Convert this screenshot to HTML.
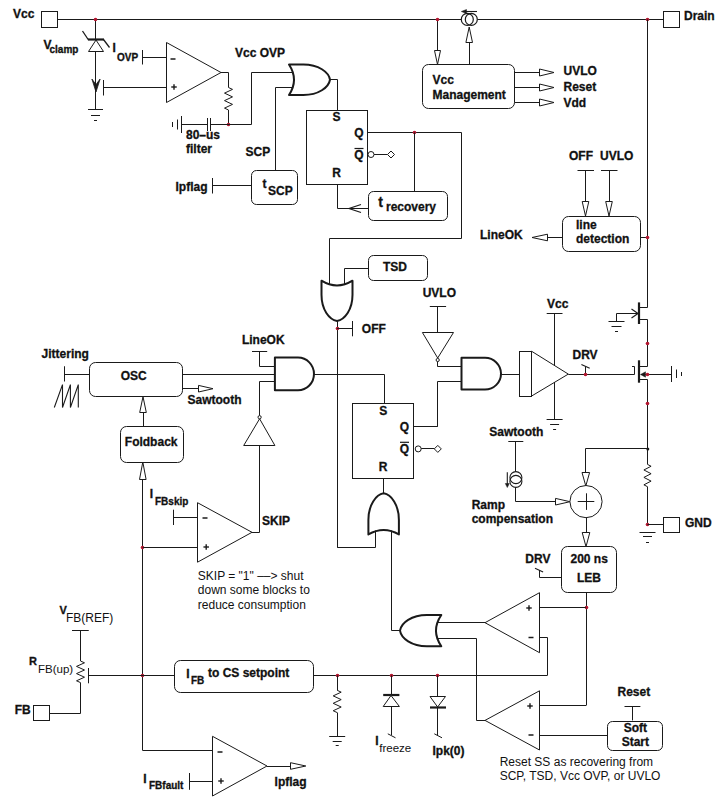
<!DOCTYPE html>
<html><head><meta charset="utf-8"><style>
html,body{margin:0;padding:0;background:#fff;width:720px;height:806px;overflow:hidden}
svg{display:block}
text{font-family:"Liberation Sans",sans-serif;fill:#111}
text[font-weight=bold]{stroke:#111;stroke-width:0.3px}
</style></head><body>
<svg width="720" height="806" viewBox="0 0 720 806">
<rect width="720" height="806" fill="#fff"/>
<text x="13" y="17.6" font-size="12" font-weight="bold" text-anchor="start">Vcc</text>
<rect x="41.5" y="11.5" width="16" height="16" rx="0" fill="#fff" stroke="#1a1a1a" stroke-width="1"/>
<line x1="57.5" y1="19.5" x2="461" y2="19.5" stroke="#1a1a1a" stroke-width="1"/>
<line x1="477.5" y1="19.5" x2="663.5" y2="19.5" stroke="#1a1a1a" stroke-width="1"/>
<rect x="663.5" y="11.5" width="16" height="16" rx="0" fill="#fff" stroke="#1a1a1a" stroke-width="1"/>
<text x="684" y="19.6" font-size="12" font-weight="bold" text-anchor="start">Drain</text>
<line x1="95.5" y1="19.5" x2="95.5" y2="40" stroke="#1a1a1a" stroke-width="1"/>
<circle cx="95.5" cy="19.5" r="1.8" fill="#b3152f"/>
<line x1="95.5" y1="51.5" x2="95.5" y2="109.5" stroke="#1a1a1a" stroke-width="1"/>
<polygon points="96,40 88.5,51.5 103.5,51.5" fill="#fff" stroke="#1a1a1a" stroke-width="1" stroke-linejoin="miter"/>
<line x1="88" y1="39.5" x2="104" y2="39.5" stroke="#1a1a1a" stroke-width="2.2"/>
<line x1="88.5" y1="40" x2="82.5" y2="31" stroke="#1a1a1a" stroke-width="1.3"/>
<line x1="103.5" y1="39.5" x2="109.5" y2="47.5" stroke="#1a1a1a" stroke-width="1.3"/>
<polygon points="91.9,79 96,92 100.1,79 96,84.5" fill="#1a1a1a" stroke="#1a1a1a" stroke-width="0.8" stroke-linejoin="miter"/>
<line x1="88" y1="109.5" x2="103" y2="109.5" stroke="#1a1a1a" stroke-width="1"/>
<line x1="91" y1="115.5" x2="100" y2="115.5" stroke="#1a1a1a" stroke-width="1"/>
<line x1="94" y1="120.5" x2="97" y2="120.5" stroke="#1a1a1a" stroke-width="1"/>
<text x="43.5" y="48.6" font-size="12" font-weight="bold" text-anchor="start">V</text>
<text x="49.5" y="52.5" font-size="10" font-weight="bold" text-anchor="start">clamp</text>
<text x="112.5" y="52.3" font-size="12" font-weight="bold" text-anchor="start">I</text>
<text x="117" y="60.8" font-size="10" font-weight="bold" text-anchor="start">OVP</text>
<line x1="142.5" y1="50" x2="142.5" y2="64.5" stroke="#1a1a1a" stroke-width="1"/>
<line x1="142.5" y1="57.5" x2="166.5" y2="57.5" stroke="#1a1a1a" stroke-width="1"/>
<line x1="103.5" y1="80" x2="103.5" y2="95.5" stroke="#1a1a1a" stroke-width="1"/>
<line x1="103.5" y1="87.5" x2="166.5" y2="87.5" stroke="#1a1a1a" stroke-width="1"/>
<polygon points="166.5,42.5 221,72.5 166.5,102.5" fill="#fff" stroke="#1a1a1a" stroke-width="1" stroke-linejoin="miter"/>
<line x1="170.5" y1="59" x2="175.5" y2="59" stroke="#1a1a1a" stroke-width="1.5"/>
<line x1="171.25" y1="87" x2="176.75" y2="87" stroke="#1a1a1a" stroke-width="1.4"/>
<line x1="174" y1="84.25" x2="174" y2="89.75" stroke="#1a1a1a" stroke-width="1.4"/>
<polyline points="221,72.5 228.5,72.5 228.5,87.5" fill="none" stroke="#1a1a1a" stroke-width="1" stroke-linejoin="miter"/>
<polyline points="228.5,87.5 232.5,89.38 224.5,93.12 232.5,96.88 224.5,100.62 232.5,104.38 224.5,108.12 228.5,110" fill="none" stroke="#1a1a1a" stroke-width="1" stroke-linejoin="miter"/>
<line x1="228.5" y1="110" x2="228.5" y2="124.5" stroke="#1a1a1a" stroke-width="1"/>
<circle cx="228.5" cy="124.5" r="1.8" fill="#b3152f"/>
<line x1="181.5" y1="124.5" x2="207.5" y2="124.5" stroke="#1a1a1a" stroke-width="1"/>
<line x1="210.5" y1="124.5" x2="251.5" y2="124.5" stroke="#1a1a1a" stroke-width="1"/>
<line x1="207.5" y1="118" x2="207.5" y2="131" stroke="#1a1a1a" stroke-width="1"/>
<line x1="210.5" y1="118" x2="210.5" y2="131" stroke="#1a1a1a" stroke-width="1"/>
<polyline points="251.5,124.5 251.5,72.5 292,72.5" fill="none" stroke="#1a1a1a" stroke-width="1" stroke-linejoin="miter"/>
<line x1="181.5" y1="116" x2="181.5" y2="133" stroke="#1a1a1a" stroke-width="1"/>
<line x1="177.5" y1="119.5" x2="177.5" y2="129.5" stroke="#1a1a1a" stroke-width="1"/>
<line x1="172.5" y1="122" x2="172.5" y2="127" stroke="#1a1a1a" stroke-width="1"/>
<text x="186" y="138.5" font-size="12" font-weight="bold" text-anchor="start">80–us</text>
<text x="186" y="153.3" font-size="12" font-weight="bold" text-anchor="start">filter</text>
<text x="235" y="57" font-size="12" font-weight="bold" text-anchor="start">Vcc OVP</text>
<text x="245.5" y="156" font-size="12" font-weight="bold" text-anchor="start">SCP</text>
<path d="M289,64.5 L303.35,64.5 C318.52,64.5 328.77,72.12 330,79.75 C328.77,87.38 318.52,95 303.35,95 L289,95 Q299,79.75 289,64.5 Z" fill="#fff" stroke="#1a1a1a" stroke-width="2" stroke-linejoin="round"/>
<polyline points="275.5,170.5 275.5,87.5 293,87.5" fill="none" stroke="#1a1a1a" stroke-width="1" stroke-linejoin="miter"/>
<polyline points="330,79.5 337.5,79.5 337.5,110" fill="none" stroke="#1a1a1a" stroke-width="1" stroke-linejoin="miter"/>
<rect x="306.5" y="110.5" width="61" height="74" rx="0" fill="#fff" stroke="#1a1a1a" stroke-width="1"/>
<text x="336.5" y="120.8" font-size="12" font-weight="bold" text-anchor="middle">S</text>
<text x="359" y="137" font-size="12" font-weight="bold" text-anchor="middle">Q</text>
<text x="359" y="158.5" font-size="12" font-weight="bold" text-anchor="middle">Q</text>
<line x1="354.5" y1="148.5" x2="363.5" y2="148.5" stroke="#1a1a1a" stroke-width="1.2"/>
<text x="336.5" y="177" font-size="12" font-weight="bold" text-anchor="middle">R</text>
<polyline points="367.5,132.5 461.5,132.5 461.5,238.5 329.5,238.5 329.5,285" fill="none" stroke="#1a1a1a" stroke-width="1" stroke-linejoin="miter"/>
<circle cx="414.5" cy="132.5" r="1.8" fill="#b3152f"/>
<line x1="414.5" y1="132.5" x2="414.5" y2="191" stroke="#1a1a1a" stroke-width="1"/>
<circle cx="371" cy="154.5" r="3" fill="#fff" stroke="#1a1a1a" stroke-width="1"/>
<line x1="374" y1="154.5" x2="387.5" y2="154.5" stroke="#1a1a1a" stroke-width="1"/>
<polygon points="391,151 394.5,154.5 391,158 387.5,154.5" fill="#fff" stroke="#1a1a1a" stroke-width="1" stroke-linejoin="miter"/>
<polyline points="337.5,184 337.5,208.5 368,208.5" fill="none" stroke="#1a1a1a" stroke-width="1" stroke-linejoin="miter"/>
<polyline points="361,204.5 349,208.5 361,212.5" fill="none" stroke="#1a1a1a" stroke-width="1.2" stroke-linejoin="miter"/>
<rect x="368.5" y="191.5" width="79" height="29" rx="5" fill="#fff" stroke="#1a1a1a" stroke-width="1"/>
<text x="378.3" y="207" font-size="14" font-weight="bold" text-anchor="start">t</text>
<text x="386" y="210.5" font-size="12" font-weight="bold" text-anchor="start">recovery</text>
<rect x="251.5" y="170.5" width="46" height="34" rx="5" fill="#fff" stroke="#1a1a1a" stroke-width="1"/>
<text x="262.5" y="187.8" font-size="12" font-weight="bold" text-anchor="start">t</text>
<text x="268" y="195" font-size="12" font-weight="bold" text-anchor="start">SCP</text>
<text x="175.5" y="190.5" font-size="12" font-weight="bold" text-anchor="start">Ipflag</text>
<line x1="212.5" y1="178" x2="212.5" y2="193.5" stroke="#1a1a1a" stroke-width="1"/>
<line x1="212.5" y1="185.5" x2="251.5" y2="185.5" stroke="#1a1a1a" stroke-width="1"/>
<rect x="422.5" y="64.5" width="92" height="44" rx="6" fill="#fff" stroke="#1a1a1a" stroke-width="1"/>
<text x="432.5" y="84" font-size="12" font-weight="bold" text-anchor="start">Vcc</text>
<text x="432.5" y="98.8" font-size="12" font-weight="bold" text-anchor="start">Management</text>
<line x1="437.5" y1="19.5" x2="437.5" y2="50" stroke="#1a1a1a" stroke-width="1"/>
<polygon points="437.5,64.5 434.5,50.5 440.5,50.5" fill="#fff" stroke="#1a1a1a" stroke-width="1" stroke-linejoin="miter"/>
<circle cx="437.5" cy="19.5" r="1.8" fill="#b3152f"/>
<ellipse cx="467.3" cy="19.4" rx="6" ry="6" fill="none" stroke="#1a1a1a" stroke-width="1.2"/>
<ellipse cx="471.3" cy="19.4" rx="6" ry="6" fill="none" stroke="#1a1a1a" stroke-width="1.2"/>
<line x1="464" y1="11.5" x2="477" y2="11.5" stroke="#1a1a1a" stroke-width="1.1"/>
<polygon points="461.3,11.5 466.5,9.5 466.5,13.5" fill="#1a1a1a" stroke="#1a1a1a" stroke-width="0.5" stroke-linejoin="miter"/>
<line x1="469.5" y1="42.4" x2="469.5" y2="64.5" stroke="#1a1a1a" stroke-width="1"/>
<polygon points="469.2,27 472.5,42.5 465.9,42.5" fill="#fff" stroke="#1a1a1a" stroke-width="1" stroke-linejoin="miter"/>
<line x1="514.5" y1="72.5" x2="539" y2="72.5" stroke="#1a1a1a" stroke-width="1"/>
<polygon points="554,72.5 539.5,76 539.5,69" fill="#fff" stroke="#1a1a1a" stroke-width="1" stroke-linejoin="miter"/>
<text x="563.5" y="75" font-size="12" font-weight="bold" text-anchor="start">UVLO</text>
<line x1="514.5" y1="87.5" x2="539" y2="87.5" stroke="#1a1a1a" stroke-width="1"/>
<polygon points="554,87.5 539.5,91 539.5,84" fill="#fff" stroke="#1a1a1a" stroke-width="1" stroke-linejoin="miter"/>
<text x="563.5" y="90.5" font-size="12" font-weight="bold" text-anchor="start">Reset</text>
<line x1="514.5" y1="102.5" x2="539" y2="102.5" stroke="#1a1a1a" stroke-width="1"/>
<polygon points="554,102.5 539.5,106 539.5,99" fill="#fff" stroke="#1a1a1a" stroke-width="1" stroke-linejoin="miter"/>
<text x="563.5" y="106.8" font-size="12" font-weight="bold" text-anchor="start">Vdd</text>
<circle cx="647.5" cy="19.5" r="1.8" fill="#b3152f"/>
<polyline points="647.5,19.5 647.5,307.5 639,307.5" fill="none" stroke="#1a1a1a" stroke-width="1" stroke-linejoin="miter"/>
<polyline points="639,319.5 647.5,319.5 647.5,366.5 639,366.5" fill="none" stroke="#1a1a1a" stroke-width="1" stroke-linejoin="miter"/>
<polyline points="639,379.5 647.5,379.5 647.5,464.4" fill="none" stroke="#1a1a1a" stroke-width="1" stroke-linejoin="miter"/>
<line x1="647.5" y1="486.7" x2="647.5" y2="524.5" stroke="#1a1a1a" stroke-width="1"/>
<line x1="639" y1="302.4" x2="639" y2="324" stroke="#1a1a1a" stroke-width="2.2"/>
<line x1="616.5" y1="313.5" x2="638" y2="313.5" stroke="#1a1a1a" stroke-width="1"/>
<polyline points="631.5,309 638,313.5 631.5,318" fill="none" stroke="#1a1a1a" stroke-width="1.2" stroke-linejoin="miter"/>
<line x1="616.5" y1="313.5" x2="616.5" y2="321.5" stroke="#1a1a1a" stroke-width="1"/>
<line x1="608.5" y1="321.5" x2="624.5" y2="321.5" stroke="#1a1a1a" stroke-width="1"/>
<line x1="611.5" y1="326.5" x2="621.5" y2="326.5" stroke="#1a1a1a" stroke-width="1"/>
<line x1="615" y1="331.5" x2="618" y2="331.5" stroke="#1a1a1a" stroke-width="1"/>
<circle cx="647.5" cy="343.5" r="1.8" fill="#b3152f"/>
<line x1="639" y1="360.3" x2="639" y2="382.7" stroke="#1a1a1a" stroke-width="2.2"/>
<polyline points="568.3,374.5 634.5,374.5 634.5,366.5 632,366.5" fill="none" stroke="#1a1a1a" stroke-width="1" stroke-linejoin="miter"/>
<line x1="641" y1="374.5" x2="671.5" y2="374.5" stroke="#1a1a1a" stroke-width="1"/>
<polygon points="640.5,374.5 645.5,371.8 645.5,377.2" fill="#1a1a1a" stroke="#1a1a1a" stroke-width="0.5" stroke-linejoin="miter"/>
<circle cx="647.5" cy="374.5" r="1.8" fill="#b3152f"/>
<line x1="671.5" y1="366" x2="671.5" y2="382" stroke="#1a1a1a" stroke-width="1"/>
<line x1="676.5" y1="369.5" x2="676.5" y2="378" stroke="#1a1a1a" stroke-width="1"/>
<line x1="681.5" y1="372" x2="681.5" y2="376" stroke="#1a1a1a" stroke-width="1"/>
<circle cx="647.5" cy="403.5" r="1.8" fill="#b3152f"/>
<rect x="562.5" y="216.5" width="78" height="35" rx="6" fill="#fff" stroke="#1a1a1a" stroke-width="1"/>
<text x="576" y="228.7" font-size="12" font-weight="bold" text-anchor="start">line</text>
<text x="576" y="243" font-size="12" font-weight="bold" text-anchor="start">detection</text>
<text x="569" y="159.7" font-size="12" font-weight="bold" text-anchor="start">OFF</text>
<text x="600" y="160" font-size="12" font-weight="bold" text-anchor="start">UVLO</text>
<line x1="577.5" y1="170.5" x2="594" y2="170.5" stroke="#1a1a1a" stroke-width="1"/>
<line x1="601" y1="170.5" x2="617.5" y2="170.5" stroke="#1a1a1a" stroke-width="1"/>
<line x1="585.5" y1="170.5" x2="585.5" y2="201" stroke="#1a1a1a" stroke-width="1"/>
<polygon points="585.5,216 582.2,201.5 588.8,201.5" fill="#fff" stroke="#1a1a1a" stroke-width="1" stroke-linejoin="miter"/>
<line x1="609.5" y1="170.5" x2="609.5" y2="201" stroke="#1a1a1a" stroke-width="1"/>
<polygon points="609,216 605.7,201.5 612.3,201.5" fill="#fff" stroke="#1a1a1a" stroke-width="1" stroke-linejoin="miter"/>
<line x1="547" y1="237.5" x2="562.5" y2="237.5" stroke="#1a1a1a" stroke-width="1"/>
<polygon points="532,237.5 547.5,234.2 547.5,240.8" fill="#fff" stroke="#1a1a1a" stroke-width="1" stroke-linejoin="miter"/>
<text x="480" y="239" font-size="12" font-weight="bold" text-anchor="start">LineOK</text>
<line x1="640.5" y1="237.5" x2="647.5" y2="237.5" stroke="#1a1a1a" stroke-width="1"/>
<circle cx="647.5" cy="237.5" r="1.8" fill="#b3152f"/>
<rect x="368.5" y="255.5" width="59" height="25" rx="5" fill="#fff" stroke="#1a1a1a" stroke-width="1"/>
<text x="395" y="270.5" font-size="12" font-weight="bold" text-anchor="middle">TSD</text>
<polyline points="368,268.5 344.5,268.5 344.5,284" fill="none" stroke="#1a1a1a" stroke-width="1" stroke-linejoin="miter"/>
<path d="M352.5,280.7 L352.5,294.81 C352.5,309.72 344.75,319.79 337,321 C329.25,319.79 321.5,309.72 321.5,294.81 L321.5,280.7 Q337,290.3 352.5,280.7 Z" fill="#fff" stroke="#1a1a1a" stroke-width="2" stroke-linejoin="round"/>
<line x1="337.5" y1="321" x2="337.5" y2="547.5" stroke="#1a1a1a" stroke-width="1"/>
<circle cx="337.5" cy="328.5" r="1.8" fill="#b3152f"/>
<polyline points="337.2,328.5 352.5,328.5" fill="none" stroke="#1a1a1a" stroke-width="1" stroke-linejoin="miter"/>
<line x1="352.5" y1="321" x2="352.5" y2="336.3" stroke="#1a1a1a" stroke-width="1"/>
<text x="361.8" y="332.5" font-size="12" font-weight="bold" text-anchor="start">OFF</text>
<text x="422.7" y="297.2" font-size="12" font-weight="bold" text-anchor="start">UVLO</text>
<line x1="429.8" y1="306.5" x2="446.1" y2="306.5" stroke="#1a1a1a" stroke-width="1"/>
<line x1="437.5" y1="306" x2="437.5" y2="332.2" stroke="#1a1a1a" stroke-width="1"/>
<polygon points="422.4,332.5 453.5,332.5 437.7,358" fill="#fff" stroke="#1a1a1a" stroke-width="1" stroke-linejoin="miter"/>
<circle cx="437.7" cy="360" r="1.6" fill="#fff" stroke="#1a1a1a" stroke-width="1"/>
<polyline points="437.5,361.6 437.5,366.5 461.5,366.5" fill="none" stroke="#1a1a1a" stroke-width="1" stroke-linejoin="miter"/>
<path d="M461.5,357.8 L485,357.8 A16,15.85 0 0 1 485,389.5 L461.5,389.5 Z" fill="#fff" stroke="#1a1a1a" stroke-width="2" stroke-linejoin="round"/>
<polyline points="437.5,426.7 437.5,381.5 461.5,381.5" fill="none" stroke="#1a1a1a" stroke-width="1" stroke-linejoin="miter"/>
<line x1="501" y1="374.5" x2="519.5" y2="374.5" stroke="#1a1a1a" stroke-width="1"/>
<rect x="519.5" y="351.5" width="12" height="45" rx="0" fill="#fff" stroke="#1a1a1a" stroke-width="1"/>
<polygon points="531.5,351.2 568.3,374.1 531.5,396.1" fill="#fff" stroke="#1a1a1a" stroke-width="1" stroke-linejoin="miter"/>
<text x="547" y="307.7" font-size="12" font-weight="bold" text-anchor="start">Vcc</text>
<line x1="546.7" y1="313.5" x2="562.5" y2="313.5" stroke="#1a1a1a" stroke-width="1"/>
<line x1="554.5" y1="313.8" x2="554.5" y2="365.3" stroke="#1a1a1a" stroke-width="1"/>
<line x1="554.5" y1="382.1" x2="554.5" y2="419" stroke="#1a1a1a" stroke-width="1"/>
<line x1="546.6" y1="419.5" x2="562.6" y2="419.5" stroke="#1a1a1a" stroke-width="1"/>
<line x1="550.1" y1="424.5" x2="559.1" y2="424.5" stroke="#1a1a1a" stroke-width="1"/>
<line x1="553.1" y1="429.5" x2="556.1" y2="429.5" stroke="#1a1a1a" stroke-width="1"/>
<text x="572.5" y="358.6" font-size="12" font-weight="bold" text-anchor="start">DRV</text>
<line x1="581.4" y1="364.6" x2="589.7" y2="368.3" stroke="#1a1a1a" stroke-width="1.1"/>
<line x1="585.5" y1="366.6" x2="585.5" y2="374.1" stroke="#1a1a1a" stroke-width="1"/>
<circle cx="585.5" cy="374.5" r="1.8" fill="#b3152f"/>
<text x="41.6" y="357.5" font-size="12" font-weight="bold" text-anchor="start">Jittering</text>
<line x1="64.5" y1="366.25" x2="64.5" y2="381.5" stroke="#1a1a1a" stroke-width="1"/>
<line x1="64.75" y1="374.5" x2="89.2" y2="374.5" stroke="#1a1a1a" stroke-width="1"/>
<polyline points="54.3,407.5 62.5,384.6 62.5,407.5 70.4,384.6 70.4,407.5 78.3,384.6 78.3,407.5" fill="none" stroke="#1a1a1a" stroke-width="1.1" stroke-linejoin="miter"/>
<rect x="89.5" y="362.5" width="93" height="34" rx="6" fill="#fff" stroke="#1a1a1a" stroke-width="1"/>
<text x="133.8" y="380.4" font-size="12" font-weight="bold" text-anchor="middle">OSC</text>
<line x1="182.9" y1="374.5" x2="274.9" y2="374.5" stroke="#1a1a1a" stroke-width="1"/>
<line x1="182.9" y1="388.5" x2="198" y2="388.5" stroke="#1a1a1a" stroke-width="1"/>
<polygon points="213,388.7 198.5,392 198.5,385.4" fill="#fff" stroke="#1a1a1a" stroke-width="1" stroke-linejoin="miter"/>
<text x="187.5" y="404.4" font-size="12" font-weight="bold" text-anchor="start">Sawtooth</text>
<rect x="120.5" y="426.5" width="63" height="36" rx="6" fill="#fff" stroke="#1a1a1a" stroke-width="1"/>
<text x="124.8" y="446.2" font-size="12" font-weight="bold" text-anchor="start">Foldback</text>
<line x1="143.5" y1="412" x2="143.5" y2="426.3" stroke="#1a1a1a" stroke-width="1"/>
<polygon points="143,396.7 146.3,412.5 139.7,412.5" fill="#fff" stroke="#1a1a1a" stroke-width="1" stroke-linejoin="miter"/>
<line x1="142.5" y1="479" x2="142.5" y2="750.6" stroke="#1a1a1a" stroke-width="1"/>
<polygon points="142.8,462 146.1,479.5 139.5,479.5" fill="#fff" stroke="#1a1a1a" stroke-width="1" stroke-linejoin="miter"/>
<circle cx="142.5" cy="547.5" r="1.8" fill="#b3152f"/>
<circle cx="142.5" cy="675.5" r="1.8" fill="#b3152f"/>
<text x="241.9" y="343.8" font-size="12" font-weight="bold" text-anchor="start">LineOK</text>
<line x1="252" y1="351.5" x2="267.2" y2="351.5" stroke="#1a1a1a" stroke-width="1"/>
<polyline points="259.5,351.2 259.5,366.5 274.9,366.5" fill="none" stroke="#1a1a1a" stroke-width="1" stroke-linejoin="miter"/>
<path d="M274.9,357.6 L298,357.6 A16,16.35 0 0 1 298,390.3 L274.9,390.3 Z" fill="#fff" stroke="#1a1a1a" stroke-width="2" stroke-linejoin="round"/>
<polyline points="259.5,417 259.5,381.5 274.9,381.5" fill="none" stroke="#1a1a1a" stroke-width="1" stroke-linejoin="miter"/>
<polygon points="259.6,418.8 274.9,445.5 243.7,445.5" fill="#fff" stroke="#1a1a1a" stroke-width="1" stroke-linejoin="miter"/>
<circle cx="259.6" cy="417.2" r="1.6" fill="#fff" stroke="#1a1a1a" stroke-width="1"/>
<polyline points="259.5,445.4 259.5,532.5 252,532.5" fill="none" stroke="#1a1a1a" stroke-width="1" stroke-linejoin="miter"/>
<polyline points="314,374.5 384.5,374.5 384.5,403.8" fill="none" stroke="#1a1a1a" stroke-width="1" stroke-linejoin="miter"/>
<rect x="352.5" y="403.5" width="61" height="75" rx="0" fill="#fff" stroke="#1a1a1a" stroke-width="1"/>
<text x="383.2" y="415" font-size="12" font-weight="bold" text-anchor="middle">S</text>
<text x="404.5" y="431" font-size="12" font-weight="bold" text-anchor="middle">Q</text>
<text x="404.5" y="452.5" font-size="12" font-weight="bold" text-anchor="middle">Q</text>
<line x1="400" y1="442.3" x2="409" y2="442.3" stroke="#1a1a1a" stroke-width="1.2"/>
<text x="383.2" y="471" font-size="12" font-weight="bold" text-anchor="middle">R</text>
<line x1="413.3" y1="426.5" x2="437.7" y2="426.5" stroke="#1a1a1a" stroke-width="1"/>
<circle cx="418.2" cy="448.9" r="3" fill="#fff" stroke="#1a1a1a" stroke-width="1"/>
<line x1="421.2" y1="448.5" x2="434.3" y2="448.5" stroke="#1a1a1a" stroke-width="1"/>
<polygon points="437.8,445.4 441.3,448.9 437.8,452.4 434.3,448.9" fill="#fff" stroke="#1a1a1a" stroke-width="1" stroke-linejoin="miter"/>
<line x1="383.5" y1="478.4" x2="383.5" y2="493.3" stroke="#1a1a1a" stroke-width="1"/>
<path d="M368.4,534.4 L368.4,520.01 C368.4,504.81 376.02,494.53 383.65,493.3 C391.27,494.53 398.9,504.81 398.9,520.01 L398.9,534.4 Q383.65,525.6 368.4,534.4 Z" fill="#fff" stroke="#1a1a1a" stroke-width="2" stroke-linejoin="round"/>
<polyline points="375.5,530.5 375.5,547.5 337.2,547.5" fill="none" stroke="#1a1a1a" stroke-width="1" stroke-linejoin="miter"/>
<polyline points="391.5,530.5 391.5,630.5 400,630.5" fill="none" stroke="#1a1a1a" stroke-width="1" stroke-linejoin="miter"/>
<path d="M441.3,646.2 L426.85,646.2 C411.56,646.2 401.24,638.4 400,630.6 C401.24,622.8 411.56,615 426.85,615 L441.3,615 Q430.7,630.6 441.3,646.2 Z" fill="#fff" stroke="#1a1a1a" stroke-width="2" stroke-linejoin="round"/>
<line x1="437" y1="622.5" x2="485" y2="622.5" stroke="#1a1a1a" stroke-width="1"/>
<polyline points="437,638.5 476.5,638.5 476.5,720.5 485,720.5" fill="none" stroke="#1a1a1a" stroke-width="1" stroke-linejoin="miter"/>
<text x="149.8" y="497.5" font-size="12" font-weight="bold" text-anchor="start">I</text>
<text x="155" y="504.8" font-size="10" font-weight="bold" text-anchor="start">FBskip</text>
<line x1="173.5" y1="509.7" x2="173.5" y2="525" stroke="#1a1a1a" stroke-width="1"/>
<line x1="173.4" y1="517.5" x2="197.2" y2="517.5" stroke="#1a1a1a" stroke-width="1"/>
<polygon points="197.5,502.7 252,532.3 197.5,562.2" fill="#fff" stroke="#1a1a1a" stroke-width="1" stroke-linejoin="miter"/>
<line x1="202.5" y1="518" x2="207.5" y2="518" stroke="#1a1a1a" stroke-width="1.5"/>
<line x1="203.45" y1="547" x2="208.95" y2="547" stroke="#1a1a1a" stroke-width="1.4"/>
<line x1="206.2" y1="544.25" x2="206.2" y2="549.75" stroke="#1a1a1a" stroke-width="1.4"/>
<line x1="142.8" y1="547.5" x2="197.2" y2="547.5" stroke="#1a1a1a" stroke-width="1"/>
<text x="262" y="525" font-size="12" font-weight="bold" text-anchor="start">SKIP</text>
<text x="197.8" y="580" font-size="12" font-weight="normal" text-anchor="start">SKIP = "1" ––&gt; shut</text>
<text x="197.8" y="594.2" font-size="12" font-weight="normal" text-anchor="start">down some blocks to</text>
<text x="197.8" y="609.2" font-size="12" font-weight="normal" text-anchor="start">reduce consumption</text>
<text x="59.6" y="614" font-size="11" font-weight="bold" text-anchor="start">V</text>
<text x="66" y="622" font-size="12" font-weight="normal" text-anchor="start">FB(REF)</text>
<line x1="72" y1="630.5" x2="88.75" y2="630.5" stroke="#1a1a1a" stroke-width="1"/>
<line x1="80.5" y1="630.3" x2="80.5" y2="661" stroke="#1a1a1a" stroke-width="1"/>
<polyline points="80.5,661 84.5,662.8 76.5,666.4 84.5,670 76.5,673.6 84.5,677.2 76.5,680.8 80.5,682.6" fill="none" stroke="#1a1a1a" stroke-width="1" stroke-linejoin="miter"/>
<polyline points="80.5,682.6 80.5,713.5 49.5,713.5" fill="none" stroke="#1a1a1a" stroke-width="1" stroke-linejoin="miter"/>
<line x1="88.5" y1="668" x2="88.5" y2="683.3" stroke="#1a1a1a" stroke-width="1"/>
<line x1="88" y1="675.5" x2="174.3" y2="675.5" stroke="#1a1a1a" stroke-width="1"/>
<text x="29" y="664.6" font-size="11" font-weight="bold" text-anchor="start">R</text>
<text x="38" y="672.9" font-size="11.5" font-weight="normal" text-anchor="start">FB(up)</text>
<rect x="33.5" y="705.5" width="16" height="15" rx="0" fill="#fff" stroke="#1a1a1a" stroke-width="1"/>
<text x="14.7" y="713.6" font-size="12" font-weight="bold" text-anchor="start">FB</text>
<rect x="174.5" y="660.5" width="139" height="32" rx="6" fill="#fff" stroke="#1a1a1a" stroke-width="1"/>
<text x="186.3" y="677.5" font-size="12" font-weight="bold" text-anchor="start">I</text>
<text x="191" y="684.4" font-size="10" font-weight="bold" text-anchor="start">FB</text>
<text x="208" y="676.7" font-size="12" font-weight="bold" text-anchor="start">to CS setpoint</text>
<line x1="313.4" y1="675.5" x2="547.3" y2="675.5" stroke="#1a1a1a" stroke-width="1"/>
<polyline points="547.5,675.5 547.5,637.5 539.3,637.5" fill="none" stroke="#1a1a1a" stroke-width="1" stroke-linejoin="miter"/>
<circle cx="337.5" cy="675.5" r="1.8" fill="#b3152f"/>
<circle cx="391.5" cy="675.5" r="1.8" fill="#b3152f"/>
<circle cx="437.5" cy="675.5" r="1.8" fill="#b3152f"/>
<line x1="337.5" y1="675.5" x2="337.5" y2="690.3" stroke="#1a1a1a" stroke-width="1"/>
<polyline points="337.2,690.3 341.2,692.16 333.2,695.88 341.2,699.59 333.2,703.31 341.2,707.02 333.2,710.74 337.2,712.6" fill="none" stroke="#1a1a1a" stroke-width="1" stroke-linejoin="miter"/>
<line x1="337.5" y1="712.6" x2="337.5" y2="736" stroke="#1a1a1a" stroke-width="1"/>
<line x1="329.2" y1="736.5" x2="345.2" y2="736.5" stroke="#1a1a1a" stroke-width="1"/>
<line x1="332.7" y1="741.5" x2="341.7" y2="741.5" stroke="#1a1a1a" stroke-width="1"/>
<line x1="335.7" y1="745.5" x2="338.7" y2="745.5" stroke="#1a1a1a" stroke-width="1"/>
<line x1="391.5" y1="675.5" x2="391.5" y2="695" stroke="#1a1a1a" stroke-width="1"/>
<line x1="383.2" y1="695" x2="399.4" y2="695" stroke="#1a1a1a" stroke-width="2.2"/>
<polygon points="391,695.5 383.2,706.5 399.4,706.5" fill="#fff" stroke="#1a1a1a" stroke-width="1" stroke-linejoin="miter"/>
<line x1="391.5" y1="706.8" x2="391.5" y2="735" stroke="#1a1a1a" stroke-width="1"/>
<line x1="387.8" y1="733.8" x2="395.5" y2="737.8" stroke="#1a1a1a" stroke-width="1"/>
<text x="375.2" y="744.8" font-size="12" font-weight="bold" text-anchor="start">I</text>
<text x="379.3" y="752.1" font-size="11.5" font-weight="normal" text-anchor="start">freeze</text>
<line x1="437.5" y1="675.5" x2="437.5" y2="696" stroke="#1a1a1a" stroke-width="1"/>
<polygon points="430,696.5 445.5,696.5 437.6,707" fill="#fff" stroke="#1a1a1a" stroke-width="1" stroke-linejoin="miter"/>
<line x1="430" y1="707.5" x2="446" y2="707.5" stroke="#1a1a1a" stroke-width="2.2"/>
<line x1="437.5" y1="707.5" x2="437.5" y2="735" stroke="#1a1a1a" stroke-width="1"/>
<line x1="434.3" y1="733.8" x2="442" y2="737.8" stroke="#1a1a1a" stroke-width="1"/>
<text x="432.5" y="754.5" font-size="12" font-weight="bold" text-anchor="start">Ipk(0)</text>
<polyline points="142.8,750.5 212.5,750.5" fill="none" stroke="#1a1a1a" stroke-width="1" stroke-linejoin="miter"/>
<polygon points="212.5,736.3 267,766 212.5,796" fill="#fff" stroke="#1a1a1a" stroke-width="1" stroke-linejoin="miter"/>
<line x1="217.5" y1="752" x2="222.5" y2="752" stroke="#1a1a1a" stroke-width="1.5"/>
<line x1="218.25" y1="781" x2="223.75" y2="781" stroke="#1a1a1a" stroke-width="1.4"/>
<line x1="221" y1="778.25" x2="221" y2="783.75" stroke="#1a1a1a" stroke-width="1.4"/>
<line x1="189.5" y1="773" x2="189.5" y2="789.8" stroke="#1a1a1a" stroke-width="1"/>
<line x1="189.6" y1="781.5" x2="212.5" y2="781.5" stroke="#1a1a1a" stroke-width="1"/>
<line x1="267" y1="766.5" x2="290.5" y2="766.5" stroke="#1a1a1a" stroke-width="1"/>
<polygon points="305.8,766 290.5,769.3 290.5,762.7" fill="#fff" stroke="#1a1a1a" stroke-width="1" stroke-linejoin="miter"/>
<text x="274.6" y="786" font-size="12" font-weight="bold" text-anchor="start">Ipflag</text>
<text x="143.3" y="783" font-size="12" font-weight="bold" text-anchor="start">I</text>
<text x="149" y="789" font-size="10" font-weight="bold" text-anchor="start">FBfault</text>
<text x="489.3" y="435.7" font-size="12" font-weight="bold" text-anchor="start">Sawtooth</text>
<line x1="508.3" y1="441.5" x2="523.3" y2="441.5" stroke="#1a1a1a" stroke-width="1"/>
<line x1="515.5" y1="441.7" x2="515.5" y2="471.7" stroke="#1a1a1a" stroke-width="1"/>
<circle cx="515.9" cy="477.6" r="6" fill="none" stroke="#1a1a1a" stroke-width="1.1"/>
<circle cx="515.9" cy="481.4" r="6" fill="none" stroke="#1a1a1a" stroke-width="1.1"/>
<line x1="507.3" y1="472.2" x2="507.3" y2="485" stroke="#1a1a1a" stroke-width="1.1"/>
<polygon points="507.3,487.5 505.3,483.5 509.3,483.5" fill="#1a1a1a" stroke="#1a1a1a" stroke-width="0.5" stroke-linejoin="miter"/>
<polyline points="515.5,487.4 515.5,501.5 555,501.5" fill="none" stroke="#1a1a1a" stroke-width="1" stroke-linejoin="miter"/>
<polygon points="570,501.7 555.5,505 555.5,498.4" fill="#fff" stroke="#1a1a1a" stroke-width="1" stroke-linejoin="miter"/>
<text x="471.7" y="509.3" font-size="12" font-weight="bold" text-anchor="start">Ramp</text>
<text x="471.7" y="522.7" font-size="12" font-weight="bold" text-anchor="start">compensation</text>
<circle cx="647.8" cy="448.9" r="1.5" fill="#1a1a1a"/>
<polyline points="647.8,448.5 585.5,448.5 585.5,472.2" fill="none" stroke="#1a1a1a" stroke-width="1" stroke-linejoin="miter"/>
<polygon points="585.8,486 582,472.5 589.6,472.5" fill="#fff" stroke="#1a1a1a" stroke-width="1" stroke-linejoin="miter"/>
<circle cx="586" cy="501.6" r="16.1" fill="#fff" stroke="#1a1a1a" stroke-width="1"/>
<line x1="577.7" y1="501.5" x2="594.3" y2="501.5" stroke="#1a1a1a" stroke-width="1"/>
<line x1="586.5" y1="493.3" x2="586.5" y2="509.9" stroke="#1a1a1a" stroke-width="1"/>
<line x1="586.5" y1="517.7" x2="586.5" y2="532" stroke="#1a1a1a" stroke-width="1"/>
<polygon points="586,546.7 582.2,532.5 589.8,532.5" fill="#fff" stroke="#1a1a1a" stroke-width="1" stroke-linejoin="miter"/>
<polyline points="647.5,464.4 651.1,466.26 643.9,469.97 651.1,473.69 643.9,477.41 651.1,481.12 643.9,484.84 647.5,486.7" fill="none" stroke="#1a1a1a" stroke-width="1" stroke-linejoin="miter"/>
<circle cx="647.5" cy="524.5" r="1.8" fill="#b3152f"/>
<line x1="647.5" y1="524.5" x2="663.3" y2="524.5" stroke="#1a1a1a" stroke-width="1"/>
<rect x="663.5" y="517.5" width="16" height="15" rx="0" fill="#fff" stroke="#1a1a1a" stroke-width="1"/>
<text x="684.9" y="526.7" font-size="12" font-weight="bold" text-anchor="start">GND</text>
<line x1="639.5" y1="532.5" x2="655.5" y2="532.5" stroke="#1a1a1a" stroke-width="1"/>
<line x1="643" y1="536.5" x2="652" y2="536.5" stroke="#1a1a1a" stroke-width="1"/>
<line x1="646" y1="542.5" x2="649" y2="542.5" stroke="#1a1a1a" stroke-width="1"/>
<rect x="561.5" y="546.5" width="55" height="46" rx="6" fill="#fff" stroke="#1a1a1a" stroke-width="1"/>
<text x="589.2" y="562.7" font-size="12" font-weight="bold" text-anchor="middle">200 ns</text>
<text x="589" y="581.7" font-size="12" font-weight="bold" text-anchor="middle">LEB</text>
<text x="525.3" y="562.8" font-size="12" font-weight="bold" text-anchor="start">DRV</text>
<line x1="535" y1="568.25" x2="543.1" y2="571.9" stroke="#1a1a1a" stroke-width="1.1"/>
<polyline points="539.5,570 539.5,577.5 561.7,577.5" fill="none" stroke="#1a1a1a" stroke-width="1" stroke-linejoin="miter"/>
<line x1="586.5" y1="592.7" x2="586.5" y2="705.5" stroke="#1a1a1a" stroke-width="1"/>
<circle cx="586.5" cy="607.5" r="1.8" fill="#b3152f"/>
<polygon points="539.5,592.7 485,622.7 539.5,652.7" fill="#fff" stroke="#1a1a1a" stroke-width="1" stroke-linejoin="miter"/>
<line x1="526.25" y1="608" x2="531.75" y2="608" stroke="#1a1a1a" stroke-width="1.4"/>
<line x1="529" y1="605.25" x2="529" y2="610.75" stroke="#1a1a1a" stroke-width="1.4"/>
<line x1="528.5" y1="637.5" x2="533.5" y2="637.5" stroke="#1a1a1a" stroke-width="1.5"/>
<line x1="539.3" y1="607.5" x2="586" y2="607.5" stroke="#1a1a1a" stroke-width="1"/>
<polygon points="539.5,690.8 485,720.4 539.5,750" fill="#fff" stroke="#1a1a1a" stroke-width="1" stroke-linejoin="miter"/>
<line x1="527.25" y1="706" x2="532.75" y2="706" stroke="#1a1a1a" stroke-width="1.4"/>
<line x1="530" y1="703.25" x2="530" y2="708.75" stroke="#1a1a1a" stroke-width="1.4"/>
<line x1="528.5" y1="735" x2="533.5" y2="735" stroke="#1a1a1a" stroke-width="1.5"/>
<line x1="539.8" y1="705.5" x2="586" y2="705.5" stroke="#1a1a1a" stroke-width="1"/>
<line x1="539.8" y1="735.5" x2="607.8" y2="735.5" stroke="#1a1a1a" stroke-width="1"/>
<rect x="607.5" y="721.5" width="55" height="29" rx="5" fill="#fff" stroke="#1a1a1a" stroke-width="1"/>
<text x="635.3" y="731.5" font-size="12" font-weight="bold" text-anchor="middle">Soft</text>
<text x="635.3" y="746" font-size="12" font-weight="bold" text-anchor="middle">Start</text>
<text x="617.5" y="696" font-size="12" font-weight="bold" text-anchor="start">Reset</text>
<line x1="624.5" y1="706.5" x2="640.4" y2="706.5" stroke="#1a1a1a" stroke-width="1"/>
<line x1="632.5" y1="706" x2="632.5" y2="720.4" stroke="#1a1a1a" stroke-width="1"/>
<text x="499.7" y="765.8" font-size="12" font-weight="normal" text-anchor="start">Reset SS as recovering from</text>
<text x="499.7" y="780.4" font-size="12" font-weight="normal" text-anchor="start">SCP, TSD, Vcc OVP, or UVLO</text>
</svg></body></html>
